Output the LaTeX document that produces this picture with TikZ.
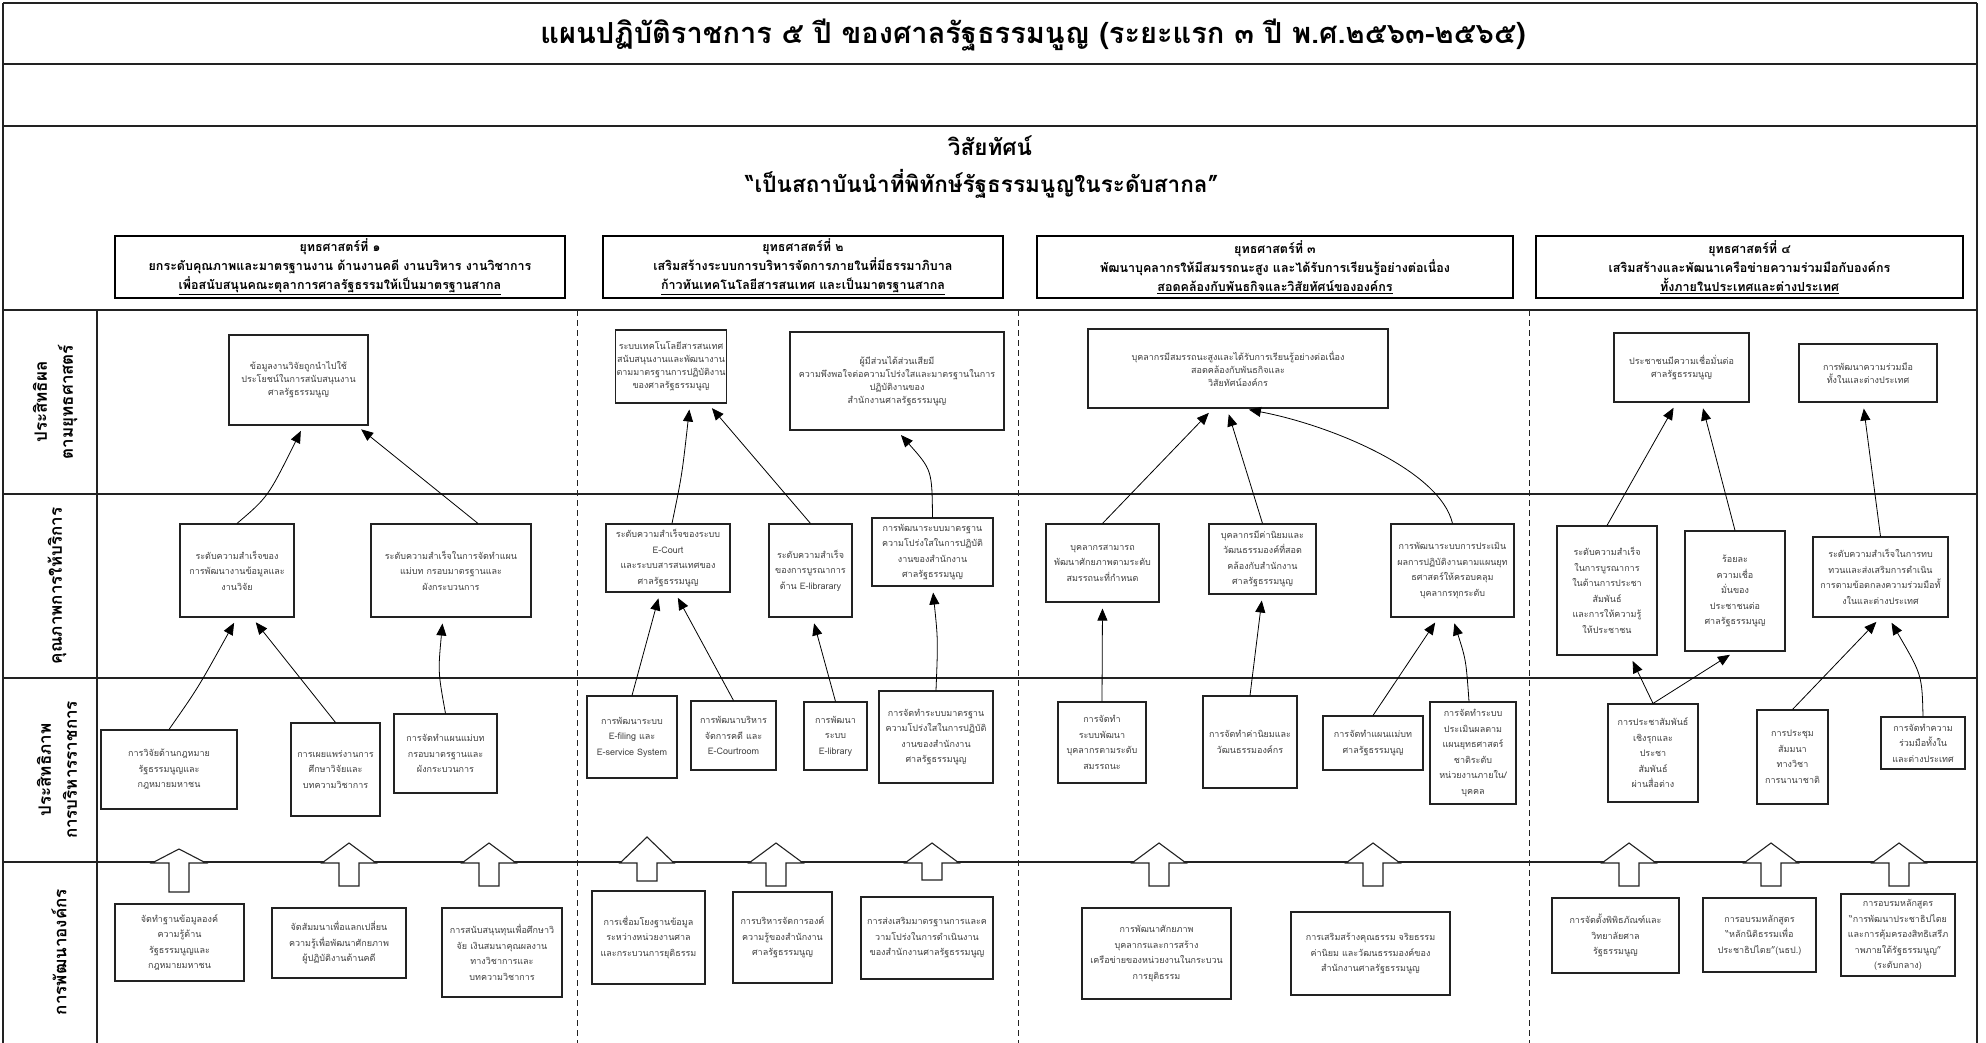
\documentclass[tikz,border=0pt]{standalone}
\usepackage{fontspec}
\setmainfont{Loma}[Script=Thai]
\usetikzlibrary{arrows.meta}
\definecolor{ln}{HTML}{222222}
\definecolor{tx}{HTML}{404040}
\tikzset{
 frame/.style={draw=ln, line width=1.6pt},
 sepline/.style={draw=ln, dash pattern=on 6pt off 4pt, line width=0.9pt},
 bx/.style={draw=ln, line width=1.1pt, fill=white, text=tx, align=center, inner sep=1pt, font=\fontsize{9}{15.5}\selectfont},
 bxa/.style={bx, font=\fontsize{9}{13}\selectfont},
 strat/.style={draw=black, line width=2pt, fill=white, align=center, font=\bfseries\fontsize{12.5}{19}\selectfont},
 con/.style={draw=black, line width=0.8pt, -{Triangle[length=12pt,width=10pt]}, shorten >=6pt},
 barrow/.style={draw=ln, line width=1.1pt, fill=white},
 lbl/.style={rotate=90, align=center, font=\bfseries\fontsize{17}{26}\selectfont},
}
\newcommand\mybox[7][bx]{\node[#1, minimum width={(#5-#3)*1pt}, minimum height={(#6-#4)*1pt}] (#2) at ({(#3+#5)/2},{(#4+#6)/2}) {#7};}
\newcommand\barr[3]{\draw[barrow] (#1,#2) -- ({#1+27},863) -- ({#1+10},863) -- ({#1+10},#3) -- ({#1-10},#3) -- ({#1-10},863) -- ({#1-27},863) -- cycle;}
\begin{document}
\begin{tikzpicture}[x=1pt,y=-1pt]
\useasboundingbox (0,0) rectangle (1986,1043);
% frame
\draw[frame] (3,3) -- (1977,3);
\draw[frame] (3,3) -- (3,1043);
\draw[frame] (1977,3) -- (1977,1043);
\draw[frame] (3,64) -- (1977,64);
\draw[frame] (3,126) -- (1977,126);
\foreach \yy in {310,494,678,862} \draw[frame] (3,\yy) -- (1977,\yy);
\draw[frame] (97,310) -- (97,1043);
\foreach \xx in {577,1018,1529} \draw[sepline] (\xx,310) -- (\xx,1043);
% titles
\node[font=\bfseries\fontsize{29}{34}\selectfont] (title) at (1033,35) {แผนปฏิบัติราชการ ๕ ปี ของศาลรัฐธรรมนูญ (ระยะแรก ๓ ปี พ.ศ.๒๕๖๓-๒๕๖๕)};
\node[font=\bfseries\fontsize{22.5}{27}\selectfont] (vis) at (990,146) {วิสัยทัศน์};
\node[font=\bfseries\fontsize{22.5}{27}\selectfont] (quote) at (982,184) {“เป็นสถาบันนำที่พิทักษ์รัฐธรรมนูญในระดับสากล”};
% strategies
\mybox[strat]{S1}{115}{236}{565}{298}{ยุทธศาสตร์ที่ ๑\\ยกระดับคุณภาพและมาตรฐานงาน ด้านงานคดี งานบริหาร งานวิชาการ\\\underline{เพื่อสนับสนุนคณะตุลาการศาลรัฐธรรมให้เป็นมาตรฐานสากล}}
\mybox[strat]{S2}{603}{236}{1003}{298}{ยุทธศาสตร์ที่ ๒\\เสริมสร้างระบบการบริหารจัดการภายในที่มีธรรมาภิบาล\\\underline{ก้าวทันเทคโนโลยีสารสนเทศ และเป็นมาตรฐานสากล}}
\mybox[strat]{S3}{1037}{236}{1513}{298}{ยุทธศาสตร์ที่ ๓\\พัฒนาบุคลากรให้มีสมรรถนะสูง และได้รับการเรียนรู้อย่างต่อเนื่อง\\\underline{สอดคล้องกับพันธกิจและวิสัยทัศน์ขององค์กร}}
\mybox[strat]{S4}{1536}{236}{1963}{298}{ยุทธศาสตร์ที่ ๔\\เสริมสร้างและพัฒนาเครือข่ายความร่วมมือกับองค์กร\\\underline{ทั้งภายในประเทศและต่างประเทศ}}
% row labels
\node[lbl] (L1) at (55,402) {ประสิทธิผล\\ตามยุทธศาสตร์};
\node[lbl] (L2) at (57,586) {คุณภาพการให้บริการ};
\node[lbl] (L3) at (57,770) {ประสิทธิภาพ\\การบริหารราชการ};
\node[lbl] (L4) at (59,952) {การพัฒนาองค์กร};
% row A
\mybox[bxa]{A1}{229}{335}{368}{425}{ข้อมูลงานวิจัยถูกนำไปใช้\\ประโยชน์ในการสนับสนุนงาน\\ศาลรัฐธรรมนูญ}
\mybox[bxa]{A2}{624}{330}{718}{403}{ระบบเทคโนโลยีสารสนเทศ\\สนับสนุนงานและพัฒนางาน\\ตามมาตรฐานการปฏิบัติงาน\\ของศาลรัฐธรรมนูญ}
\mybox[bxa]{A3}{790}{332}{1004}{430}{ผู้มีส่วนได้ส่วนเสียมี\\ความพึงพอใจต่อความโปร่งใสและมาตรฐานในการ\\ปฏิบัติงานของ\\สำนักงานศาลรัฐธรรมนูญ}
\mybox[bxa]{A4}{1088}{329}{1388}{408}{บุคลากรมีสมรรถนะสูงและได้รับการเรียนรู้อย่างต่อเนื่อง\\สอดคล้องกับพันธกิจและ\\วิสัยทัศน์องค์กร}
\mybox[bxa]{A5}{1614}{333}{1749}{402}{ประชาชนมีความเชื่อมั่นต่อ\\ศาลรัฐธรรมนูญ}
\mybox[bxa]{A6}{1799}{344}{1937}{402}{การพัฒนาความร่วมมือ\\ทั้งในและต่างประเทศ}
% row B
\mybox{B1}{180}{524}{294}{617}{ระดับความสำเร็จของ\\การพัฒนางานข้อมูลและ\\งานวิจัย}
\mybox{B2}{371}{524}{531}{617}{ระดับความสำเร็จในการจัดทำแผน\\แม่บท กรอบมาตรฐานและ\\ผังกระบวนการ}
\mybox{B3}{606}{524}{730}{592}{ระดับความสำเร็จของระบบ\\E-Court\\และระบบสารสนเทศของ\\ศาลรัฐธรรมนูญ}
\mybox{B4}{769}{524}{852}{617}{ระดับความสำเร็จ\\ของการบูรณาการ\\ด้าน E-librarary}
\mybox{B5}{872}{518}{993}{586}{การพัฒนาระบบมาตรฐาน\\ความโปร่งใสในการปฏิบัติ\\งานของสำนักงาน\\ศาลรัฐธรรมนูญ}
\mybox{B6}{1046}{524}{1159}{602}{บุคลากรสามารถ\\พัฒนาศักยภาพตามระดับ\\สมรรถนะที่กำหนด}
\mybox{B7}{1209}{524}{1316}{594}{บุคลากรมีค่านิยมและ\\วัฒนธรรมองค์ที่สอด\\คล้องกับสำนักงาน\\ศาลรัฐธรรมนูญ}
\mybox{B8}{1391}{524}{1514}{617}{การพัฒนาระบบการประเมิน\\ผลการปฏิบัติงานตามแผนยุท\\ธศาสตร์ให้ครอบคลุม\\บุคลากรทุกระดับ}
\mybox{B9}{1557}{526}{1657}{655}{ระดับความสำเร็จ\\ในการบูรณาการ\\ในด้านการประชา\\สัมพันธ์\\และการให้ความรู้\\ให้ประชาชน}
\mybox{B10}{1685}{531}{1785}{651}{ร้อยละ\\ความเชื่อ\\มั่นของ\\ประชาชนต่อ\\ศาลรัฐธรรมนูญ}
\mybox{B11}{1813}{537}{1948}{617}{ระดับความสำเร็จในการทบ\\ทวนและส่งเสริมการดำเนิน\\การตามข้อตกลงความร่วมมือทั้\\งในและต่างประเทศ}
% row C
\mybox{C1}{101}{730}{237}{809}{การวิจัยด้านกฎหมาย\\รัฐธรรมนูญและ\\กฎหมายมหาชน}
\mybox{C2}{291}{723}{380}{816}{การเผยแพร่งานการ\\ศึกษาวิจัยและ\\บทความวิชาการ}
\mybox{C3}{394}{714}{497}{793}{การจัดทำแผนแม่บท\\กรอบมาตรฐานและ\\ผังกระบวนการ}
\mybox{C4}{587}{696}{677}{778}{การพัฒนาระบบ\\E-filing และ\\E-service System}
\mybox{C5}{691}{701}{776}{770}{การพัฒนาบริหาร\\จัดการคดี และ\\E-Courtroom}
\mybox{C6}{804}{702}{867}{770}{การพัฒนา\\ระบบ\\E-library}
\mybox{C7}{879}{691}{993}{783}{การจัดทำระบบมาตรฐาน\\ความโปร่งใสในการปฏิบัติ\\งานของสำนักงาน\\ศาลรัฐธรรมนูญ}
\mybox{C8}{1058}{702}{1146}{783}{การจัดทำ\\ระบบพัฒนา\\บุคลากรตามระดับ\\สมรรถนะ}
\mybox{C9}{1203}{696}{1297}{788}{การจัดทำค่านิยมและ\\วัฒนธรรมองค์กร}
\mybox{C10}{1323}{716}{1423}{770}{การจัดทำแผนแม่บท\\ศาลรัฐธรรมนูญ}
\mybox{C11}{1430}{702}{1516}{804}{การจัดทำระบบ\\ประเมินผลตาม\\แผนยุทธศาสตร์\\ชาติระดับ\\หน่วยงานภายใน/\\บุคคล}
\mybox{C12}{1608}{704}{1698}{802}{การประชาสัมพันธ์\\เชิงรุกและ\\ประชา\\สัมพันธ์\\ผ่านสื่อต่าง}
\mybox{C13}{1757}{710}{1828}{804}{การประชุม\\สัมมนา\\ทางวิชา\\การนานาชาติ}
\mybox{C14}{1881}{717}{1965}{769}{การจัดทำความ\\ร่วมมือทั้งใน\\และต่างประเทศ}
% row D
\mybox{D1}{115}{904}{244}{981}{จัดทำฐานข้อมูลองค์\\ความรู้ด้าน\\รัฐธรรมนูญและ\\กฎหมายมหาชน}
\mybox{D2}{272}{908}{406}{978}{จัดสัมมนาเพื่อแลกเปลี่ยน\\ความรู้เพื่อพัฒนาศักยภาพ\\ผู้ปฏิบัติงานด้านคดี}
\mybox{D3}{442}{908}{562}{997}{การสนับสนุนทุนเพื่อศึกษาวิ\\จัย เงินสมนาคุณผลงาน\\ทางวิชาการและ\\บทความวิชาการ}
\mybox{D4}{592}{891}{705}{984}{การเชื่อมโยงฐานข้อมูล\\ระหว่างหน่วยงานศาล\\และกระบวนการยุติธรรม}
\mybox{D5}{733}{892}{832}{983}{การบริหารจัดการองค์\\ความรู้ของสำนักงาน\\ศาลรัฐธรรมนูญ}
\mybox{D6}{861}{897}{993}{979}{การส่งเสริมมาตรฐานการและค\\วามโปร่งในการดำเนินงาน\\ของสำนักงานศาลรัฐธรรมนูญ}
\mybox{D7}{1082}{908}{1231}{999}{การพัฒนาศักยภาพ\\บุคลากรและการสร้าง\\เครือข่ายของหน่วยงานในกระบวน\\การยุติธรรม}
\mybox{D8}{1291}{912}{1450}{995}{การเสริมสร้างคุณธรรม จริยธรรม\\ค่านิยม และวัฒนธรรมองค์ของ\\สำนักงานศาลรัฐธรรมนูญ}
\mybox{D9}{1552}{898}{1679}{973}{การจัดตั้งพิพิธภัณฑ์และ\\วิทยาลัยศาล\\รัฐธรรมนูญ}
\mybox{D10}{1703}{898}{1816}{972}{การอบรมหลักสูตร\\“หลักนิติธรรมเพื่อ\\ประชาธิปไตย”(นธป.)}
\mybox{D11}{1841}{894}{1955}{976}{การอบรมหลักสูตร\\“การพัฒนาประชาธิปไตย\\และการคุ้มครองสิทธิเสรีภ\\าพภายใต้รัฐธรรมนูญ”\\(ระดับกลาง)}
% connectors col 1
\draw[con] (C1.north) .. controls (198,688) .. (B1.south);
\draw[con] (C2.north) -- ([xshift=15pt]B1.south);
\draw[con] (C3.north) .. controls (438,672) .. ([xshift=-8pt]B2.south);
\draw[con] (B1.north) .. controls (268,497) .. ([xshift=5pt]A1.south);
\draw[con] ([xshift=27pt]B2.north) -- ([xshift=58pt]A1.south);
% col 2
\draw[con] (C4.north) -- ([xshift=-8pt]B3.south);
\draw[con] (C5.north) -- ([xshift=7pt]B3.south);
\draw[con] (C6.north) -- ([xshift=2pt]B4.south);
\draw[con] (C7.north) .. controls (938,640) .. (B5.south);
\draw[con] ([xshift=4pt]B3.north) .. controls (682,475) .. ([xshift=19pt]A2.south);
\draw[con] (B4.north) -- ([xshift=37pt]A2.south);
\draw[con] (B5.north) .. controls (932,470) .. (A3.south);
% col 3
\draw[con] (C8.north) -- (B6.south);
\draw[con] (C9.north) -- (B7.south);
\draw[con] (C10.north) -- ([xshift=-14pt]B8.south);
\draw[con] ([xshift=-4pt]C11.north) .. controls (1466,660) .. (B8.south);
\draw[con] (B6.north) -- ([xshift=-25pt]A4.south);
\draw[con] (B7.north) -- ([xshift=-11pt]A4.south);
\draw[con] (B8.north) .. controls (1440,470) and (1330,425) .. ([xshift=5pt]A4.south);
% col 4
\draw[con] (C12.north) -- ([xshift=23pt]B9.south);
\draw[con] (C12.north) -- (B10.south);
\draw[con] (C13.north) -- (B11.south);
\draw[con] (C14.north) .. controls (1922,675) .. ([xshift=8pt]B11.south);
\draw[con] (B9.north) -- ([xshift=-5pt]A5.south);
\draw[con] (B10.north) -- ([xshift=20pt]A5.south);
\draw[con] (B11.north) -- ([xshift=-5pt]A6.south);
% block arrows
\barr{179}{849}{892}
\barr{349}{843}{886}
\barr{489}{843}{886}
\barr{647}{837}{881}
\barr{776}{843}{886}
\barr{932}{843}{880}
\barr{1159}{843}{886}
\barr{1373}{843}{886}
\barr{1629}{843}{886}
\barr{1771}{843}{886}
\barr{1899}{843}{886}
\end{tikzpicture}
\end{document}
